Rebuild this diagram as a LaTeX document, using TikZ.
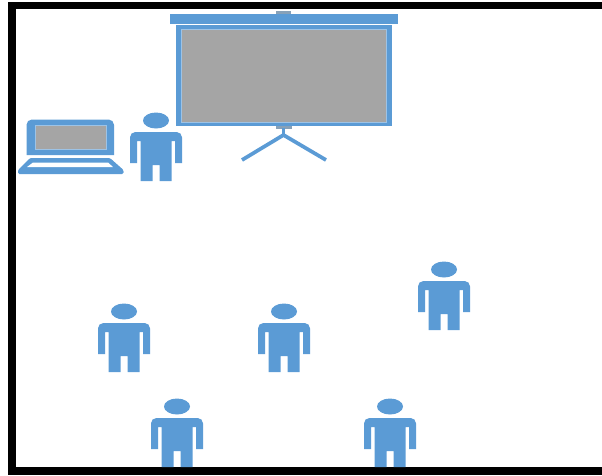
\documentclass[tikz,border=0pt]{standalone}
\definecolor{iconblue}{RGB}{91, 155, 213}
\definecolor{paleblue}{RGB}{157, 195, 230}
\definecolor{screengray}{RGB}{165, 165, 165}
\usepackage{tikz}
\usetikzlibrary{positioning}
\tikzset{
    iconpart/.style={fill=iconblue, draw=none},
    innerpanel/.style={fill=screengray, draw=paleblue, line width=1.1pt},
    person/.pic={
        \fill[iconblue] (0, -0.5) ellipse [x radius=13, y radius=8];
        \fill[iconblue] (-26, 42) [rounded corners=4] -- (-26, 11) -- (26, 11) [sharp corners] -- (26, 42) -- (19, 42)
            -- (19, 20) -- (15.5, 20) -- (15.5, 60) -- (3.5, 60) -- (3.5, 44) -- (-3.5, 44) -- (-3.5, 60) -- (-15.5, 60) -- (-15.5, 20) -- (-19, 20) -- (-19, 42) -- cycle;
    }
}

\begin{document}
\begin{tikzpicture}[x=0.75pt, y=-0.75pt]
    \useasboundingbox (0, 0) rectangle (602, 475);

    % Frame
    \fill[black] (8, 2) rectangle (602, 9);
    \fill[black] (8, 2) rectangle (15.5, 475);
    \fill[black] (8, 467) rectangle (602, 475);

    % Screen
    \fill[screengray!60!iconblue] (276, 11) rectangle (291, 14);
    \fill[iconpart] (170, 14) rectangle (398, 24);
    \fill[iconpart] (176, 25) rectangle (392, 126);
    \node[innerpanel, minimum width=204.5*0.75pt, minimum height=92.5*0.75pt, inner sep=0pt] (screen) at (284, 76) {};

    % Stand
    \coordinate (standtop) at (283.5, 128);
    \coordinate (standjoint) at (283.5, 135);
    \coordinate (footleft) at (242, 160);
    \coordinate (footright) at (326, 160);
    \fill[screengray!60!iconblue] (276, 126) rectangle (292, 129);
    \draw[iconblue, line width=2.8pt] (standtop) -- (standjoint);
    \draw[iconblue, line width=2.8pt] (footleft) -- (standjoint) -- (footright);

    % Laptop
    \fill[iconpart] (26.5, 155) [rounded corners=4] -- (26.5, 119.5) -- (114, 119.5) [sharp corners] -- (114, 155) -- cycle;
    \node[innerpanel, minimum width=71*0.75pt, minimum height=24*0.75pt, inner sep=0pt] (display) at (71, 137.5) {};
    \fill[iconpart, rounded corners=1] (18, 174) -- (18, 170) -- (30, 158) -- (110, 158) -- (123.5, 170) -- (123.5, 174) -- cycle;
    \fill[white] (27, 167) -- (33, 162.5) -- (108, 162.5) -- (113, 167) -- cycle;

    % Audience
    \pic at (156, 121) {person};
    \pic at (124, 312) {person};
    \pic at (284, 312) {person};
    \pic at (444, 270) {person};
    \pic at (177, 407) {person};
    \pic at (390, 407) {person};
\end{tikzpicture}
\end{document}
